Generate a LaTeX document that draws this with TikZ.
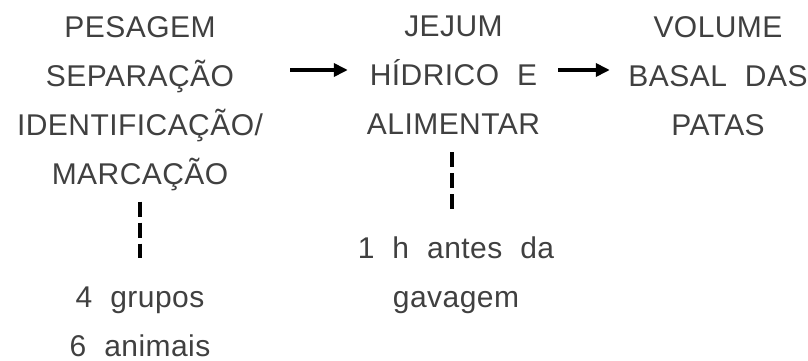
\documentclass[tikz,border=0pt]{standalone}
\usepackage{fontspec}
\setmainfont[LetterSpace=1.5]{Liberation Sans}
\usetikzlibrary{arrows.meta,calc}
\newcommand\dsp{\hspace{0.6em}}
\begin{document}
\begin{tikzpicture}[x=1pt,y=-1pt,
  lbl/.style={inner sep=0pt, align=center, text=black!75,
    font={\fontsize{30}{49}\selectfont}, anchor=north},
  arr/.style={line width=4.5pt, -{Triangle[length=14pt,width=13pt]}},
  dsh/.style={line width=4.5pt, dash pattern=on 15pt off 6pt}]
\useasboundingbox (0,0) rectangle (808,361);
\node[lbl, text width=260pt] (c1) at (140,16) {PESAGEM\\SEPARAÇÃO\\IDENTIFICAÇÃO/\\MARCAÇÃO};
\node[lbl, text width=190pt] (c2) at (453.5,16) {JEJUM\\HÍDRICO\dsp E\\ALIMENTAR};
\node[lbl, text width=190pt] (c3) at (718,16) {VOLUME\\BASAL\dsp DAS\\PATAS};
\node[lbl] (g1) at (140,286.5) {4\dsp grupos\\6\dsp animais};
\node[lbl] (h1) at (456,236.5) {1\dsp h\dsp antes\dsp da\\gavagem};
\coordinate (r) at (0,70);
\draw[arr] ($(c1.east |- r)+(20,0)$) -- ($(c2.west |- r)+(-10.5,0)$);
\draw[arr] ($(c2.east |- r)+(9.5,0)$) -- ($(c3.west |- r)+(-13,0)$);
\draw[dsh] ($(c1.south)+(0,11)$) -- ($(c1.south |- g1.north)+(0,-28.5)$);
\draw[dsh] ($(c2.south)+(-1.5,17)$) -- ($(c2.south |- h1.north)+(-1.5,-26.5)$);
\end{tikzpicture}
\end{document}
